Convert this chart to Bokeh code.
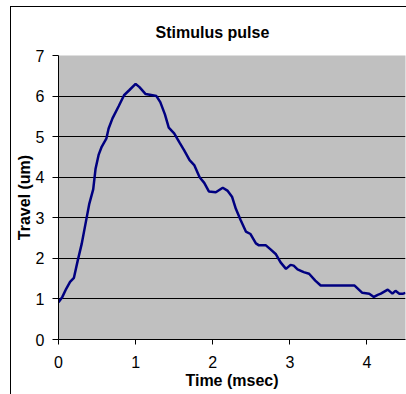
from bokeh.plotting import figure
from bokeh.embed import file_html
from bokeh.resources import INLINE
from bokeh.models import Range1d, FixedTicker

title_text = "Stimulus pulse"
x_label = "Time (msec)"
y_label = "Travel (um)"
x_ticks = [0, 1, 2, 3, 4]
y_ticks = [0, 1, 2, 3, 4, 5, 6, 7]

time_ms = [0.00, 0.05, 0.10, 0.15, 0.20, 0.25, 0.30, 0.35, 0.40, 0.45,
           0.48, 0.52, 0.56, 0.62, 0.65, 0.70, 0.78, 0.85, 0.92, 1.00,
           1.05, 1.13, 1.22, 1.27, 1.32, 1.38, 1.43, 1.50, 1.57, 1.63,
           1.70, 1.76, 1.83, 1.89, 1.95, 2.04, 2.13, 2.19, 2.25, 2.30,
           2.36, 2.43, 2.49, 2.56, 2.60, 2.69, 2.75, 2.82, 2.88, 2.95,
           3.01, 3.05, 3.10, 3.18, 3.25, 3.33, 3.40, 3.84, 3.94, 4.03,
           4.09, 4.14, 4.18, 4.27, 4.33, 4.37, 4.42, 4.47, 4.50]
travel_um = [0.92, 1.05, 1.25, 1.42, 1.52, 1.95, 2.35, 2.85, 3.35, 3.70,
             4.20, 4.55, 4.75, 4.95, 5.20, 5.45, 5.75, 6.02, 6.15, 6.30,
             6.22, 6.05, 6.02, 6.00, 5.85, 5.55, 5.22, 5.08, 4.85, 4.66,
             4.42, 4.30, 4.00, 3.86, 3.65, 3.63, 3.74, 3.67, 3.52, 3.22,
             2.95, 2.66, 2.60, 2.37, 2.32, 2.32, 2.22, 2.10, 1.90, 1.74,
             1.84, 1.82, 1.73, 1.66, 1.62, 1.45, 1.33, 1.33, 1.15, 1.13,
             1.05, 1.10, 1.13, 1.23, 1.13, 1.20, 1.13, 1.13, 1.15]

FONT = "Liberation Sans"

p = figure(width=406, height=394, output_backend="svg", toolbar_location=None,
           x_range=Range1d(0, 4.5), y_range=Range1d(0, 7),
           min_border_left=58, min_border_right=1, min_border_top=55,
           min_border_bottom=55)

# chart-area border (left and top edges), drawn behind a transparent canvas border
p.styles = {
    "background": ("linear-gradient(#000,#000) 10px 6px / 1px 388px no-repeat, "
                   "linear-gradient(#000,#000) 10px 6px / 396px 1px no-repeat, #fff"),
}

p.title.text = title_text
p.title.align = "left"
p.title.offset = 97
p.title.standoff = 29
p.title.text_font = FONT
p.title.text_font_size = "16px"
p.title.text_font_style = "bold"
p.title.text_color = "black"

p.background_fill_color = "#C0C0C0"
p.border_fill_color = None
p.outline_line_color = None

p.xgrid.grid_line_color = None
p.ygrid.grid_line_color = "black"
p.ygrid.grid_line_width = 1
p.ygrid.grid_line_alpha = 1.0

p.xaxis.ticker = FixedTicker(ticks=x_ticks)
p.yaxis.ticker = FixedTicker(ticks=y_ticks)

for ax in (p.xaxis[0], p.yaxis[0]):
    ax.axis_line_color = "black"
    ax.axis_line_width = 1
    ax.major_tick_line_color = "black"
    ax.major_tick_in = 0
    ax.minor_tick_line_color = None
    ax.major_label_text_font = FONT
    ax.major_label_text_font_size = "16px"
    ax.major_label_text_color = "black"
    ax.axis_label_text_font = FONT
    ax.axis_label_text_font_size = "16px"
    ax.axis_label_text_font_style = "bold"
    ax.axis_label_text_color = "black"

p.xaxis.axis_label = x_label
p.yaxis.axis_label = y_label
p.xaxis.major_tick_out = 5
p.yaxis.major_tick_out = 6
p.xaxis.major_label_standoff = 11
p.yaxis.major_label_standoff = 8
p.xaxis.axis_label_standoff = 1
p.yaxis.axis_label_standoff = 0

p.line(time_ms, travel_um, line_color="#000080", line_width=2.5)

open("out.html", "w").write(file_html(p, INLINE))
